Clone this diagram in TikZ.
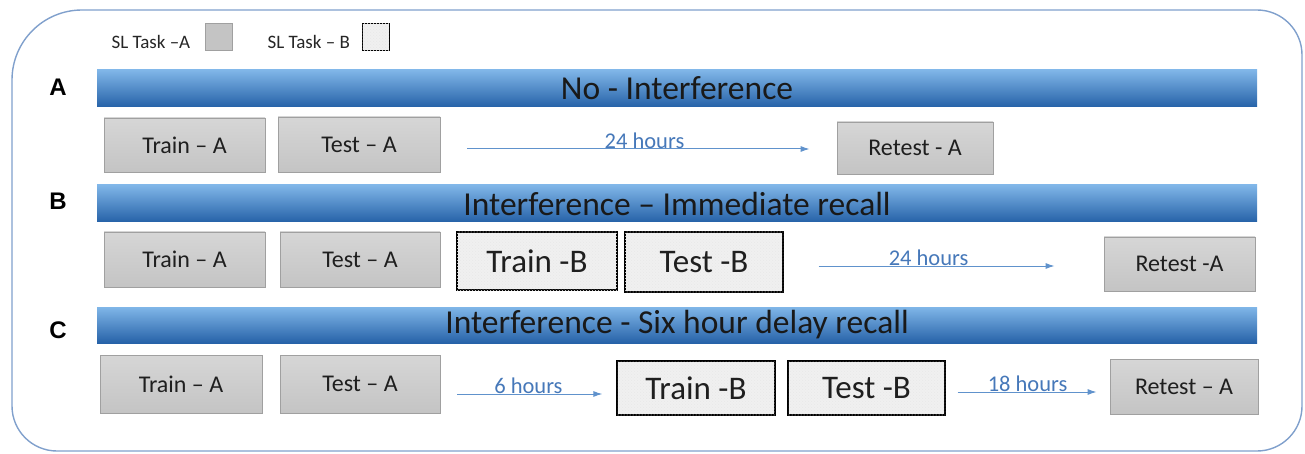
\documentclass[tikz,border=0pt]{standalone}
\usepackage{fontspec}
\setmainfont{Carlito}
\newfontfamily\lblfont{Liberation Sans}
\usetikzlibrary{patterns,arrows.meta}
\definecolor{framecol}{RGB}{128,160,204}
\definecolor{barTop}{RGB}{128,182,232}
\definecolor{barBot}{RGB}{38,98,168}
\definecolor{boxTop}{RGB}{214,214,214}
\definecolor{boxBot}{RGB}{196,196,196}
\definecolor{boxLine}{RGB}{160,160,160}
\definecolor{texFill}{RGB}{240,240,240}
\definecolor{arrowcol}{RGB}{96,146,204}
\definecolor{hourcol}{RGB}{70,120,185}
\tikzset{
  graybox/.style={draw=boxLine, line width=0.8pt, top color=boxTop, bottom color=boxBot,
    inner sep=0pt, font=\fontsize{24}{26}\selectfont, text=black!88},
  texbox/.style={draw=black, line width=1.2pt, fill=texFill,
    postaction={pattern=crosshatch dots, pattern color=gray!18},
    inner sep=0pt, font=\fontsize{33}{36}\selectfont, text=black!88},
  bar/.style={top color=barTop, bottom color=barBot, inner sep=0pt,
    minimum width=1160pt, font=\fontsize{33.5}{36}\selectfont, text=black!90},
  rowlabel/.style={font=\lblfont\bfseries\fontsize{24}{26}\selectfont},
  legtext/.style={font=\fontsize{19}{21}\selectfont, text=black!85},
  hours/.style={line width=1pt, draw=arrowcol, -{Latex[length=9pt,width=6pt]}},
  hourlabel/.style={anchor=base, yshift=0.5pt, text=hourcol, font=\fontsize{22.5}{24}\selectfont}
}
\begin{document}
\begin{tikzpicture}[x=1pt,y=-1pt]
\useasboundingbox (0,0) rectangle (1305,454);
% outer frame
\draw[framecol, line width=1.4pt]
  (12,200) [rounded corners=70] -- (12,10) [rounded corners=45] -- (1302,10)
  -- (1302,451) -- (12,451) -- cycle;

% legend
\node[legtext, anchor=west] (legA) at (108,42) {SL Task –A};
\node[draw=boxLine, fill=boxBot, minimum width=27pt, minimum height=27pt, inner sep=0pt] (sqA) at (219,37) {};
\node[legtext, anchor=west] (legB) at (264,42) {SL Task – B};
\node[draw=black, line width=1.1pt, fill=texFill, minimum width=27pt, minimum height=27pt, inner sep=0pt,
  postaction={pattern=crosshatch dots, pattern color=gray!18}] (sqB) at (376,37) {};

% section headers
\node[rowlabel] (labA) at (58,87) {A};
\node[rowlabel] (labB) at (58,201) {B};
\node[rowlabel] (labC) at (58,330) {C};
\node[bar, minimum height=37pt] (barA) at (677,88.5) {No - Interference};
\node[bar, minimum height=37pt] (barB) at (677,203.5) {Interference – Immediate recall};
\node[bar, minimum height=36pt] (barC) at (677,325) {Interference - Six hour delay recall};

% row A
\node[graybox, minimum width=161pt, minimum height=54pt] (a1) at (184.5,145) {Train – A};
\node[graybox, minimum width=162pt, minimum height=55pt] (a2) at (359,144.5) {Test – A};
\node[graybox, minimum width=156pt, minimum height=52pt] (a3) at (915,148) {Retest - A};
\draw[hours, shorten <=27pt, shorten >=27pt] ([yshift=-4.5pt]a2.east) -- ([yshift=-1pt]a3.west)
  node[hourlabel, midway, xshift=6pt] {24 hours};

% row B
\node[graybox, minimum width=161pt, minimum height=55pt] (b1) at (184.5,259.5) {Train – A};
\node[graybox, minimum width=160pt, minimum height=55pt] (b2) at (360,259.5) {Test – A};
\node[texbox, minimum width=160pt, minimum height=58pt] (b3) at (537,261) {Train -B};
\node[texbox, minimum width=158pt, minimum height=60pt] (b4) at (704,262) {Test -B};
\node[graybox, minimum width=151pt, minimum height=54pt] (b5) at (1179.5,264) {Retest -A};
\draw[hours, shorten <=35pt, shorten >=49pt] ([yshift=-4pt]b4.east) -- ([yshift=-2pt]b5.west)
  node[hourlabel, midway, xshift=-15pt] {24 hours};

% row C
\node[graybox, minimum width=162pt, minimum height=58pt] (c1) at (181,384) {Train – A};
\node[graybox, minimum width=160pt, minimum height=58pt] (c2) at (360,384) {Test – A};
\node[texbox, minimum width=158pt, minimum height=54pt] (c3) at (696,388) {Train -B};
\node[texbox, minimum width=157pt, minimum height=54pt] (c4) at (866.5,388) {Test -B};
\node[graybox, minimum width=148pt, minimum height=55pt] (c5) at (1184,386.5) {Retest – A};
\draw[hours, shorten <=17pt, shorten >=14pt] ([yshift=-10pt]c2.east) -- ([yshift=-6pt]c3.west)
  node[hourlabel, midway] {6 hours};
\draw[hours, shorten <=12pt, shorten >=13pt] ([yshift=-4pt]c4.east) -- ([yshift=-5.5pt]c5.west)
  node[hourlabel, midway] {18 hours};
\end{tikzpicture}
\end{document}
